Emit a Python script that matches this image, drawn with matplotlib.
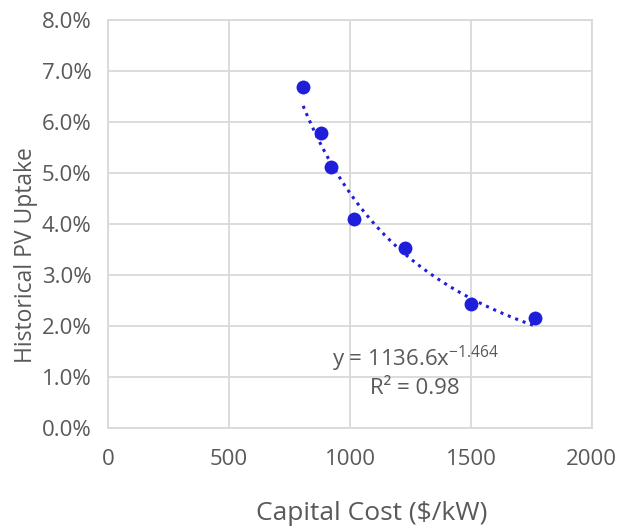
import numpy as np
import matplotlib.pyplot as plt
from matplotlib.ticker import PercentFormatter

# data
capital_cost = [806, 880, 921, 1017, 1227, 1500, 1764]
pv_uptake = [0.0669, 0.0578, 0.0512, 0.0410, 0.0353, 0.0243, 0.0216]

# power trendline shown on the chart: y = a * x^b
trend_a = 1136.6
trend_b = -1.464

plt.rcParams['font.family'] = ['Open Sans', 'DejaVu Sans']
plt.rcParams['mathtext.fontset'] = 'custom'
plt.rcParams['mathtext.rm'] = 'Open Sans'
text_color = '#595959'
grid_color = '#d9d9d9'
blue = '#1f1fdb'

fig = plt.figure(figsize=(6.37, 5.32), dpi=100)
ax = fig.add_axes([0.170, 0.195, 0.759, 0.767])

xs = np.linspace(min(capital_cost), max(capital_cost), 200)
ax.plot(xs, trend_a * xs ** trend_b, linestyle=(0, (1, 1.6)), color=blue,
        linewidth=2.2, zorder=2)
ax.scatter(capital_cost, pv_uptake, s=100, color=blue, zorder=3, linewidths=0)

ax.set_xlim(0, 2000)
ax.set_ylim(0, 0.08)
ax.set_xticks(np.arange(0, 2001, 500))
ax.set_yticks(np.arange(0, 0.0801, 0.01))
ax.yaxis.set_major_formatter(PercentFormatter(1.0, decimals=1))

ax.grid(True, color=grid_color, linewidth=1.3)
ax.set_axisbelow(True)
for s in ax.spines.values():
    s.set_color(grid_color)
    s.set_linewidth(1.3)
ax.tick_params(length=0, labelsize=16, colors=text_color)
ax.tick_params(axis='y', pad=12)
ax.tick_params(axis='x', pad=15)

ax.set_xlabel('Capital Cost ($/kW)', fontsize=19, color=text_color, va='center')
ax.xaxis.set_label_coords(0.545, -0.208)
ax.set_ylabel('Historical PV Uptake', fontsize=16.5, color=text_color,
              va='center', ha='center')
ax.yaxis.set_label_coords(-0.171, 0.424)

ax.text(1270, 0.0136, r'y = 1136.6x$^{\mathrm{-1.464}}$', fontsize=16,
        color=text_color, ha='center', va='center')
ax.text(1270, 0.0078, 'R² = 0.98', fontsize=16, color=text_color,
        ha='center', va='center')

fig.savefig('out.png', dpi=100)
